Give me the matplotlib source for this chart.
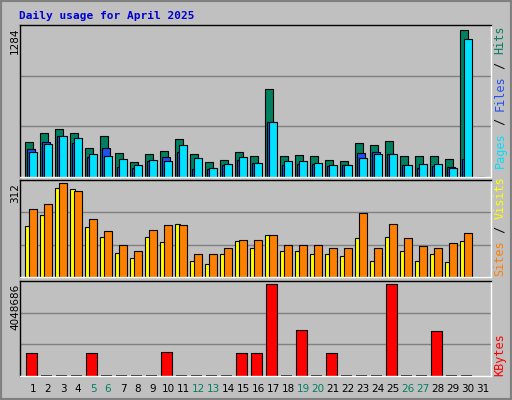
import matplotlib
matplotlib.use("Agg")
import matplotlib.pyplot as plt
import numpy as np

days = list(range(1, 32))
hits = [308,386,421,386,256,360,212,134,203,229,334,203,134,151,221,186,770,186,195,186,151,142,299,282,317,186,186,186,160,1284,0]
files = [221,290,360,343,203,186,160,107,151,142,282,168,81,116,177,125,482,142,142,125,107,107,168,203,203,107,116,116,81,1205,0]
pages = [247,308,360,299,177,256,90,81,142,177,221,73,73,107,151,125,482,107,116,116,99,107,212,221,203,107,81,99,90,160,0]
visits = [170,207,298,292,166,132,81,64,132,115,176,54,44,75,119,98,139,88,85,78,75,71,129,54,132,85,54,78,51,119,0]
sites = [227,244,312,288,193,153,105,88,156,173,173,78,78,98,122,122,139,108,105,105,98,98,214,98,176,129,102,95,112,146,0]
kbytes = [1023000,0,0,0,1023000,0,0,0,0,1068000,0,0,0,0,1023000,1023000,4048686,0,2047000,0,1023000,0,0,0,4048686,0,0,2002000,0,0,0]
weekend = [5,6,12,13,19,20,26,27]

BG = "#c0c0c0"
W, H = 512, 400
fig = plt.figure(figsize=(W/100, H/100), dpi=100, facecolor=BG)
fig.patches.append(plt.Rectangle((0, 0), 1, 1, transform=fig.transFigure,
                                 fill=False, edgecolor="#808080", linewidth=3))
mono = "DejaVu Sans Mono"

def mkax(top, bottom):
    ax = fig.add_axes([20/W, 1-bottom/H, 471/W, (bottom-top)/H])
    ax.set_facecolor(BG)
    ax.set_xlim(0.13, 31.53)
    ax.set_xticks([]); ax.set_yticks([])
    for s in ax.spines.values():
        s.set_color("black"); s.set_linewidth(1)
    ax.spines["bottom"].set_color("white")
    ax.spines["right"].set_color("white")
    return ax

d = np.array(days)
ek = dict(edgecolor="black", linewidth=0.8, align="edge")

ax1 = mkax(25, 177)
top1 = max(hits)*152/147
ax1.set_ylim(0, top1)
for g in (top1/3, 2*top1/3):
    ax1.axhline(g, color="#808080", lw=1, zorder=0)
ax1.bar(d-0.53, hits, 0.5, color="#008060", **ek)
ax1.bar(d-0.4, pages, 0.5, color="#2050f0", **ek)
ax1.bar(d-0.25, files, 0.5, color="#00e0ff", **ek)

ax2 = mkax(180, 277)
top2 = max(sites)*286/276
ax2.set_ylim(0, top2)
for g in (top2/3, 2*top2/3):
    ax2.axhline(g, color="#808080", lw=1, zorder=0)
ax2.bar(d-0.51, visits, 0.3, color="#ffff00", **ek)
ax2.bar(d-0.25, sites, 0.5, color="#ff8000", **ek)

ax3 = mkax(281, 376)
top3 = max(kbytes)*283/273
ax3.set_ylim(0, top3)
for g in (top3/3, 2*top3/3):
    ax3.axhline(g, color="#808080", lw=1, zorder=0)
kb = np.array(kbytes[:30], dtype=float)
dd30 = d[:30]
nz = kb > 0
ax3.bar(dd30[nz]-0.45, kb[nz], 0.7, color="#ff0000", **ek)
# zero days are drawn as a thin dark dash
ax3.bar(dd30[~nz]-0.45, np.full((~nz).sum(), top3*0.012), 0.7,
        color="#202020", edgecolor="none", align="edge")

# day labels
for dd in days:
    fig.text((20 + (dd-0.13)*15)/W, 1-389/H, str(dd), ha="center", va="center",
             fontsize=7.5, family="DejaVu Sans",
             color="#008060" if dd in weekend else "black")

# left max labels
for txt, y in (("1284", 28), ("312", 183), ("4048686", 284)):
    fig.text(15/W, 1-y/H, txt, rotation=90, ha="center", va="top",
             fontsize=7.5, family="DejaVu Sans")

# right legends (reading bottom to top)
def vlegend(parts, ybottom):
    y = ybottom
    for txt, col in parts:
        fig.text(500/W, 1-y/H, txt, rotation=90, ha="center", va="bottom",
                 fontsize=8.5, family=mono, color=col)
        y -= len(txt)*7.1
vlegend([("Pages", "#00e0ff"), (" / ", "black"), ("Files", "#2050f0"), (" / ", "black"), ("Hits", "#008060")], 168)
vlegend([("Sites", "#ff8000"), (" / ", "black"), ("Visits", "#ffff00")], 276)
vlegend([("KBytes", "#ff0000")], 376)

fig.text(19/W, 1-16/H, "Daily usage for April 2025", fontsize=8, family=mono,
         weight="bold", color="#0000d0", va="center", ha="left")

fig.savefig("out.png", dpi=100, facecolor=BG)
